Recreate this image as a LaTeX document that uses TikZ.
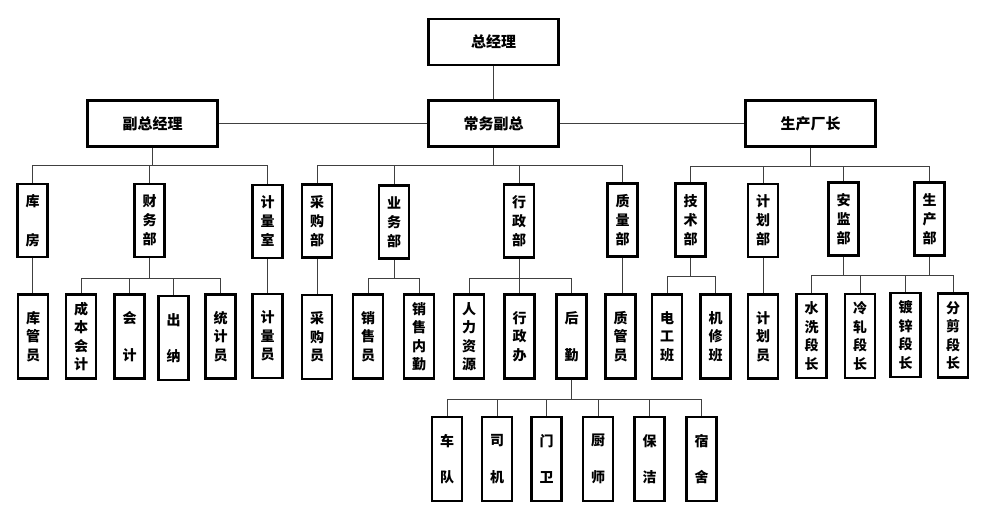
\documentclass[tikz,border=0pt]{standalone}
\usepackage{fontspec}
\newfontfamily\cjk{Noto Sans CJK SC}
\usetikzlibrary{positioning,calc}

\begin{document}
\begin{tikzpicture}[x=1pt,y=-1pt,
  box/.style={draw,line width=2.6pt,inner sep=0pt,align=center,
    font=\cjk\bfseries\fontsize{14}{19}\selectfont},
  head/.style={box,minimum width=130pt,minimum height=46pt,
    font=\cjk\bfseries\fontsize{15}{19}\selectfont},
  dept/.style={box,minimum width=30pt,minimum height=73pt},
  post/.style={box,minimum width=30pt,minimum height=84pt,
    font=\cjk\bfseries\fontsize{14}{18.5}\selectfont},
  link/.style={line width=1pt,black!75}]
\fill[white] (0,0) rectangle (982,519);

\node[head] (zjl) at (493.5,42) {总经理};
\node[head] (cwfz) at (493.5,123.5) {常务副总};
\node[head] (fzjl) at (152.5,123.5) {副总经理};
\node[head] (sccz) at (810.5,123.5) {生产厂长};

\node[dept] (kf) at (32.5,220.5) {库\\[20pt]房};
\node[dept] (cwb) at (149.5,220.5) {财\\务\\部};
\node[dept] (jls) at (267.5,221.5) {计\\量\\室};
\node[dept] (cgb) at (317,221) {采\\购\\部};
\node[dept] (ywb) at (394,222) {业\\务\\部};
\node[dept] (xzb) at (519,221) {行\\政\\部};
\node[dept] (zlb) at (622.5,220) {质\\量\\部};
\node[dept] (jsb) at (690.5,220) {技\\术\\部};
\node[dept] (jhb) at (763,220.5) {计\\划\\部};
\node[dept] (ajb) at (843.5,219) {安\\监\\部};
\node[dept] (scb) at (929.5,219) {生\\产\\部};

\node[post] (kgy) at (33,336.5) {库\\管\\员};
\node[post] (cbkj) at (81,336.5) {成\\本\\会\\计};
\node[post] (kj) at (129.5,336.5) {会\\[18pt]计};
\node[post] (cn) at (173.5,338) {出\\[18pt]纳};
\node[post] (tjy) at (220.5,336.5) {统\\计\\员};
\node[post] (jly) at (267.5,336) {计\\量\\员};
\node[post] (cgy) at (317,337) {采\\购\\员};
\node[post] (xsy) at (368,336.5) {销\\售\\员};
\node[post] (xsnq) at (419,336.5) {销\\售\\内\\勤};
\node[post] (rlzy) at (469,336.5) {人\\力\\资\\源};
\node[post] (xzbg) at (519.5,336.5) {行\\政\\办};
\node[post] (hq) at (571.5,336.5) {后\\[18pt]勤};
\node[post] (zgy) at (620.5,336.5) {质\\管\\员};
\node[post] (dgb) at (667,336.5) {电\\工\\班};
\node[post] (jxb) at (715.5,336.5) {机\\修\\班};
\node[post] (jhy) at (763,336.5) {计\\划\\员};
\node[post] (sxdz) at (811.5,336) {水\\洗\\段\\长};
\node[post] (lzdz) at (860,336) {冷\\轧\\段\\长};
\node[post] (dxdz) at (905.5,335) {镀\\锌\\段\\长};
\node[post] (fjdz) at (953,335.5) {分\\剪\\段\\长};

\node[post] (cd) at (447,459) {车\\[18pt]队};
\node[post] (sj) at (497,459) {司\\[18pt]机};
\node[post] (mw) at (546.5,459) {门\\[18pt]卫};
\node[post] (cs) at (598,459) {厨\\[18pt]师};
\node[post] (bj) at (649.5,459) {保\\[18pt]洁};
\node[post] (ss) at (701.5,459) {宿\\[18pt]舍};

\coordinate (b1) at (0,165);
\coordinate (b2) at (0,166);
\coordinate (b3) at (0,278);
\coordinate (b4) at (0,276);
\coordinate (b5) at (0,275);
\coordinate (b6) at (0,399);

\draw[link] (zjl) -- (cwfz);
\draw[link] (fzjl) -- (cwfz) -- (sccz);
\foreach \c in {kf,cwb,jls}
  \draw[link] (fzjl.south) |- (\c.north |- b1) -- (\c.north);
\foreach \c in {cgb,ywb,xzb,zlb}
  \draw[link] (cwfz.south) |- (\c.north |- b1) -- (\c.north);
\foreach \c in {jsb,jhb,ajb,scb}
  \draw[link] (sccz.south) |- (\c.north |- b2) -- (\c.north);
\foreach \c in {cbkj,kj,cn,tjy}
  \draw[link] (cwb.south) |- (\c.north |- b3) -- (\c.north);
\foreach \c in {xsy,xsnq}
  \draw[link] (ywb.south) |- (\c.north |- b3) -- (\c.north);
\foreach \c in {rlzy,xzbg,hq}
  \draw[link] (xzb.south) |- (\c.north |- b3) -- (\c.north);
\foreach \c in {dgb,jxb}
  \draw[link] (jsb.south) |- (\c.north |- b4) -- (\c.north);
\foreach \c in {sxdz,lzdz,dxdz,fjdz}
  \draw[link] (scb.south) |- (\c.north |- b5) -- (\c.north);
\draw[link] (ajb.south) -- (ajb.south |- b5);
\foreach \c in {cd,sj,mw,cs,bj,ss}
  \draw[link] (hq.south) |- (\c.north |- b6) -- (\c.north);
\foreach \a/\b in {kf/kgy,jls/jly,cgb/cgy,zlb/zgy,jhb/jhy}
  \draw[link] (\a.south) -- (\a.south |- \b.north);
\end{tikzpicture}
\end{document}
